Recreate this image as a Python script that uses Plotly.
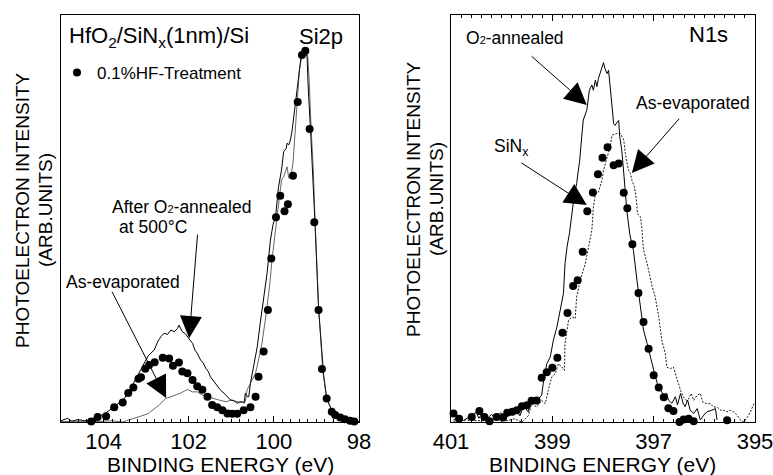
import plotly.graph_objects as go

# ---------------- Si2p panel (left) ----------------
si_tick_vals = [104, 102, 100, 98]
si_tick_text = ["104", "102", "100", "98"]

si_hf_E = [104.29, 104.14, 103.94, 103.75, 103.55, 103.42, 103.30, 103.18, 103.12, 103.02,
           102.93, 102.80, 102.61, 102.46, 102.37, 102.23, 102.15, 102.03, 101.91, 101.80,
           101.68, 101.56, 101.45, 101.33, 101.21, 101.09, 100.98, 100.86, 100.71, 100.55,
           100.43, 100.36, 100.24, 100.14, 100.06, 99.95, 99.85, 99.75, 99.67, 99.55,
           99.44, 99.34, 99.26, 99.16, 99.05, 98.95, 98.87, 98.76, 98.64, 98.56,
           98.44, 98.33, 98.21, 98.11]
si_hf_I = [0.1, 1.2, 1.4, 3.6, 4.8, 7.1, 8.5, 10.6, 11.0, 13.1,
           14.0, 14.7, 15.8, 15.6, 13.8, 14.6, 12.4, 12.0, 10.3, 8.8,
           7.9, 6.2, 4.2, 3.6, 2.9, 2.1, 2.0, 2.0, 2.9, 3.6,
           6.2, 11.1, 17.3, 27.5, 40.2, 50.3, 55.6, 51.8, 53.5, 60.5,
           78.6, 90.2, 91.2, 72.0, 49.1, 27.5, 13.0, 5.8, 2.5, 1.7,
           1.1, 0.7, 0.3, 0.1]

si_o2_E = [105.0, 104.85, 104.75, 104.6, 104.45, 104.3, 104.15, 104.0, 103.85, 103.7,
           103.55, 103.4, 103.3, 103.2, 103.08, 102.95, 102.81, 102.72, 102.65, 102.58,
           102.50, 102.42, 102.34, 102.26, 102.23, 102.15, 102.09, 102.03, 101.97, 101.91,
           101.85, 101.80, 101.72, 101.66, 101.60, 101.54, 101.49, 101.40, 101.33, 101.25,
           101.17, 101.10, 101.02, 100.94, 100.86, 100.80, 100.74, 100.70, 100.67, 100.62,
           100.59, 100.55, 100.47, 100.39, 100.32, 100.24, 100.16, 100.08, 100.02, 99.96,
           99.89, 99.82, 99.77, 99.71, 99.69, 99.65, 99.61, 99.57, 99.50, 99.42,
           99.36, 99.32, 99.28, 99.22, 99.19, 99.13, 99.08, 99.03, 98.95, 98.83,
           98.76, 98.64, 98.50, 98.40, 98.20, 98.0]
si_o2_I = [0.3, 0.9, 0.2, 0.6, 0.3, 0.5, 1.4, 1.8, 3.0, 4.2,
           5.3, 7.5, 9.5, 11.5, 14.0, 16.3, 17.7, 19.9, 21.0, 21.8,
           21.5, 22.6, 22.2, 23.0, 23.8, 22.2, 21.8, 21.0, 20.0, 19.3,
           17.6, 16.9, 15.2, 14.5, 13.2, 12.4, 11.1, 9.9, 8.7, 7.8,
           7.1, 6.3, 5.4, 5.2, 4.6, 4.9, 5.0, 4.6, 7.1, 6.2,
           6.2, 9.5, 13.6, 18.5, 24.3, 30.0, 36.5, 44.7, 48.5, 50.4,
           57.8, 61.9, 66.4, 67.2, 68.5, 68.1, 69.3, 71.7, 77.5, 84.8,
           89.8, 90.6, 91.0, 89.8, 81.6, 70.1, 59.5, 48.0, 27.9, 11.5,
           5.8, 2.9, 1.5, 0.9, 0.4, 0.1]

si_as_E = [105.0, 104.6, 104.2, 103.8, 103.55, 103.40, 103.24, 103.05, 102.95, 102.85,
           102.77, 102.69, 102.60, 102.54, 102.42, 102.30, 102.19, 102.10, 102.03, 101.91,
           101.80, 101.68, 101.56, 101.45, 101.29, 101.13, 100.98, 100.86, 100.74, 100.67,
           100.63, 100.51, 100.43, 100.36, 100.28, 100.20, 100.10, 100.04, 99.96, 99.90,
           99.82, 99.77, 99.73, 99.69, 99.65, 99.60, 99.55, 99.50, 99.44, 99.40,
           99.34, 99.26, 99.21, 99.17, 99.13, 99.07, 99.03, 98.95, 98.85, 98.76,
           98.64, 98.50, 98.30, 98.0]
si_as_I = [0.1, 0.2, 0.1, 0.3, 0.0, 0.5, 0.9, 1.7, 2.1, 2.9,
           3.5, 4.2, 5.2, 5.8, 6.2, 6.6, 7.1, 7.6, 8.0, 7.4,
           7.4, 6.6, 6.2, 5.8, 5.4, 5.0, 5.4, 5.0, 4.8, 5.0,
           7.9, 10.3, 12.0, 15.2, 19.3, 25.1, 33.5, 40.2, 47.6, 53.7,
           59.5, 60.3, 61.5, 62.7, 59.9, 60.3, 63.6, 71.7, 79.9, 86.5,
           90.2, 91.2, 90.6, 84.0, 73.4, 61.1, 48.8, 28.5, 12.5, 6.0,
           2.7, 1.3, 0.5, 0.1]

# ---------------- N1s panel (right) ----------------
n_tick_vals = [401, 399, 397, 395]
n_tick_text = ["401", "399", "397", "395"]

n_o2_E = [400.95, 400.85, 400.75, 400.6, 400.5, 400.45, 400.38, 400.3, 400.2, 400.12,
          400.02, 399.92, 399.82, 399.72, 399.64, 399.56, 399.5, 399.47, 399.44, 399.41,
          399.34, 399.27, 399.21, 399.18, 399.14, 399.11, 399.04, 398.98, 398.91, 398.85,
          398.78, 398.75, 398.71, 398.66, 398.58, 398.52, 398.46, 398.42, 398.39, 398.32,
          398.27, 398.22, 398.19, 398.15, 398.12, 398.09, 398.06, 398.02, 397.99, 397.96,
          397.92, 397.89, 397.86, 397.82, 397.79, 397.76, 397.72, 397.69, 397.67, 397.63,
          397.59, 397.56, 397.53, 397.47, 397.40, 397.33, 397.26, 397.20, 397.13, 397.07,
          397.00, 396.93, 396.87, 396.80, 396.74, 396.71, 396.64, 396.57, 396.53, 396.47,
          396.42, 396.38, 396.33, 396.28, 396.21, 396.14, 396.08, 396.01, 395.95, 395.85,
          395.78, 395.75]
n_o2_I = [0.5, 1.2, 0.4, 1.6, 2.4, 0.9, 2.2, 0.6, 1.9, 0.7,
          2.3, 1.2, 1.8, 3.1, 1.5, 4.3, 2.8, 2.5, 6.1, 4.5,
          4.9, 5.7, 6.6, 9.4, 12.7, 14.3, 16.0, 20.1, 23.3, 27.5,
          31.6, 38.9, 43.0, 46.5, 54.5, 58.6, 64.3, 70.1, 74.2, 76.6,
          81.5, 82.8, 81.5, 84.0, 82.4, 84.4, 85.6, 87.7, 88.3, 86.8,
          85.6, 86.4, 83.1, 77.4, 73.3, 72.9, 73.7, 74.1, 70.1, 66.8,
          61.1, 56.9, 52.0, 46.0, 42.2, 34.8, 28.3, 22.6, 19.3, 16.0,
          12.8, 9.5, 7.9, 6.6, 7.0, 5.4, 4.6, 6.2, 4.2, 7.0,
          4.6, 3.8, 5.4, 2.9, 2.1, 3.3, 0.5, 1.7, 2.5, 2.9,
          3.3, 0.5]

n_as_E = [400.95, 400.7, 400.4, 400.1, 399.9, 399.75, 399.6, 399.47, 399.41, 399.31,
          399.21, 399.14, 399.08, 399.01, 398.94, 398.88, 398.81, 398.76, 398.75, 398.68,
          398.61, 398.55, 398.52, 398.45, 398.35, 398.29, 398.22, 398.19, 398.15, 398.09,
          398.02, 397.99, 397.92, 397.86, 397.82, 397.73, 397.66, 397.63, 397.59, 397.56,
          397.53, 397.50, 397.46, 397.43, 397.38, 397.34, 397.32, 397.26, 397.23, 397.20,
          397.13, 397.03, 396.97, 396.90, 396.84, 396.77, 396.74, 396.67, 396.61, 396.57,
          396.54, 396.47, 396.41, 396.36, 396.31, 396.26, 396.21, 396.14, 396.08, 396.03,
          395.95, 395.88, 395.82, 395.75, 395.68, 395.62, 395.55, 395.49, 395.42, 395.35,
          395.28, 395.22, 395.15, 395.09, 395.02]
n_as_I = [0.2, 0.5, 0.3, 0.6, 0.3, 0.8, 0.0, 1.6, 4.5, 3.7,
          5.3, 4.5, 7.8, 11.1, 11.9, 14.3, 13.5, 12.7, 19.3, 25.0,
          25.8, 25.4, 30.7, 34.8, 38.9, 43.0, 47.1, 52.8, 56.1, 56.5,
          59.4, 61.9, 65.1, 67.6, 70.5, 70.9, 70.9, 70.1, 69.3, 66.0,
          63.5, 61.9, 61.1, 59.4, 57.8, 54.5, 51.2, 50.4, 47.0, 42.3,
          39.0, 33.3, 30.8, 25.9, 20.1, 16.8, 13.5, 13.1, 13.5, 11.9,
          11.1, 7.8, 6.1, 5.3, 5.7, 7.0, 5.3, 6.6, 7.0, 4.9,
          4.5, 4.5, 3.7, 3.7, 2.9, 2.9, 2.5, 2.9, 2.5, 1.6,
          0.4, 0.0, 1.2, 2.5, 4.5]

n_sin_E = [400.95, 400.84, 400.59, 400.44, 400.34, 400.24, 400.10, 399.97, 399.89, 399.79,
           399.70, 399.60, 399.50, 399.41, 399.31, 399.21, 399.11, 399.00, 398.90, 398.80,
           398.70, 398.59, 398.50, 398.40, 398.31, 398.20, 398.10, 398.01, 397.91, 397.79,
           397.69, 397.59, 397.52, 397.42, 397.30, 397.20, 397.10, 397.00, 396.90, 396.80,
           396.71, 396.61, 396.49, 396.41, 396.31, 396.21, 395.55]
n_sin_I = [2.1, 0.8, 1.2, 2.7, 1.2, 0.2, 1.2, 1.1, 2.3, 2.5,
           2.9, 3.9, 4.1, 5.2, 5.3, 10.9, 12.2, 13.3, 15.8, 21.9,
           26.8, 33.4, 34.8, 41.8, 51.8, 56.4, 60.9, 64.9, 67.5, 63.1,
           63.5, 56.3, 52.5, 43.7, 31.7, 24.6, 18.0, 11.5, 8.5, 6.1,
           3.4, 2.7, 0.0, 0.6, 0.8, 0.2, 0.4]

FONT = "Arial, Liberation Sans, sans-serif"
BLACK = "black"

fig = go.Figure()

# Left panel traces
fig.add_trace(go.Scatter(x=si_o2_E, y=si_o2_I, mode="lines",
                         line=dict(color=BLACK, width=1), showlegend=False,
                         xaxis="x", yaxis="y"))
fig.add_trace(go.Scatter(x=si_as_E, y=si_as_I, mode="lines",
                         line=dict(color="#222", width=0.7), showlegend=False,
                         xaxis="x", yaxis="y"))
fig.add_trace(go.Scatter(x=si_hf_E, y=si_hf_I, mode="markers", name="0.1%HF-Treatment",
                         marker=dict(color=BLACK, size=8), cliponaxis=False,
                         showlegend=True, xaxis="x", yaxis="y"))

# Right panel traces
fig.add_trace(go.Scatter(x=n_o2_E, y=n_o2_I, mode="lines",
                         line=dict(color=BLACK, width=1), showlegend=False,
                         xaxis="x2", yaxis="y2"))
fig.add_trace(go.Scatter(x=n_as_E, y=n_as_I, mode="lines",
                         line=dict(color=BLACK, width=0.9, dash="2px,1.5px"), showlegend=False,
                         xaxis="x2", yaxis="y2"))
fig.add_trace(go.Scatter(x=n_sin_E, y=n_sin_I, mode="markers",
                         marker=dict(color=BLACK, size=8), cliponaxis=False,
                         showlegend=False, xaxis="x2", yaxis="y2"))

ydom = [1 - 422 / 475, 1 - 15 / 475]

def xaxis_cfg(dom, rng, tv, tt, mirror, anchor):
    return dict(domain=dom, range=rng, tickvals=tv, ticktext=tt, anchor=anchor,
                ticks="inside", ticklen=6, tickwidth=1, tickcolor=BLACK,
                minor=dict(dtick=0.2, ticks="inside", ticklen=3, tickcolor=BLACK, tickwidth=1),
                showline=True, linecolor=BLACK, linewidth=1, mirror=mirror,
                showgrid=False, zeroline=False, automargin=False,
                ticklabeloverflow="allow",
                tickfont=dict(family=FONT, size=22, color=BLACK))

def yaxis_cfg(anchor):
    return dict(domain=ydom, range=[0, 100], anchor=anchor, showticklabels=False,
                ticks="", showline=True, linecolor=BLACK, linewidth=1, mirror=True,
                showgrid=False, zeroline=False, automargin=False)

ann = []
def txt(text, x, y, xref, yref, size=16, xanchor="left", angle=0):
    ann.append(dict(text=text, x=x, y=y, xref=xref, yref=yref, showarrow=False,
                    xanchor=xanchor, yanchor="middle", textangle=angle,
                    font=dict(family=FONT, size=size, color=BLACK)))

def arrow(x, y, ax, ay, xr, yr):
    ann.append(dict(text="", x=x, y=y, ax=ax, ay=ay, xref=xr, yref=yr, axref=xr, ayref=yr,
                    showarrow=True, arrowhead=2, arrowsize=4.4, arrowwidth=1,
                    arrowcolor=BLACK, standoff=0))

small2 = "<span style='font-size:11px'>2</span>"

# Left panel texts
txt("HfO<sub>2</sub>/SiN<sub>x</sub>(1nm)/Si", 104.86, 94.6, "x", "y", size=22)
txt("Si2p", 99.45, 94.6, "x", "y", size=22)
txt("After O" + small2 + "-annealed", 103.85, 52.8, "x", "y", size=17.5)
txt("at 500°C", 103.68, 47.9, "x", "y", size=17.5)
txt("As-evaporated", 104.92, 34.4, "x", "y", size=17.5)
arrow(101.99, 20.6, 101.79, 46.4, "x", "y")
arrow(102.53, 5.9, 103.82, 32.4, "x", "y")

# Right panel texts
txt("N1s", 396.35, 95.1, "x2", "y2", size=22)
txt("O" + small2 + "-annealed", 400.74, 94.3, "x2", "y2", size=17.5)
txt("As-evaporated", 397.38, 78.3, "x2", "y2", size=17.5)
txt("SiN<sub>x</sub>", 400.19, 67.5, "x2", "y2", size=17.5)
arrow(398.32, 77.9, 399.44, 90.2, "x2", "y2")
arrow(397.43, 61.2, 396.47, 74.9, "x2", "y2")
arrow(398.32, 53.3, 399.64, 63.9, "x2", "y2")

# Axis titles (paper)
def p(xpx, ypx):
    return xpx / 773, 1 - ypx / 475

for xt, (xp, yp) in [("BINDING ENERGY (eV)", p(221, 464)), ("BINDING ENERGY (eV)", p(602, 464))]:
    txt(xt, xp, yp, "paper", "paper", size=21, xanchor="center")
for xt, (xp, yp) in [("PHOTOELECTRON INTENSITY", p(22, 210)), ("(ARB.UNITS)", p(45, 210)),
                     ("PHOTOELECTRON INTENSITY", p(413, 199)), ("(ARB.UNITS)", p(436, 199))]:
    txt(xt, xp, yp, "paper", "paper", size=19, xanchor="center", angle=-90)

fig.update_layout(
    width=773, height=475,
    margin=dict(l=0, r=0, t=0, b=0),
    paper_bgcolor="white", plot_bgcolor="white",
    xaxis=xaxis_cfg([61 / 773, 359 / 773], [105, 98], si_tick_vals, si_tick_text, True, "y"),
    yaxis=yaxis_cfg("x"),
    xaxis2=xaxis_cfg([451 / 773, 755 / 773], [401, 395], n_tick_vals, n_tick_text, "allticks", "y2"),
    yaxis2=yaxis_cfg("x2"),
    annotations=ann,
    showlegend=True,
    legend=dict(x=57 / 773, y=1 - 73 / 475, xanchor="left", yanchor="middle",
                bgcolor="rgba(0,0,0,0)", borderwidth=0,
                font=dict(family=FONT, size=17, color=BLACK)),
    font=dict(family=FONT, color=BLACK),
)

fig.write_html("out.html")
